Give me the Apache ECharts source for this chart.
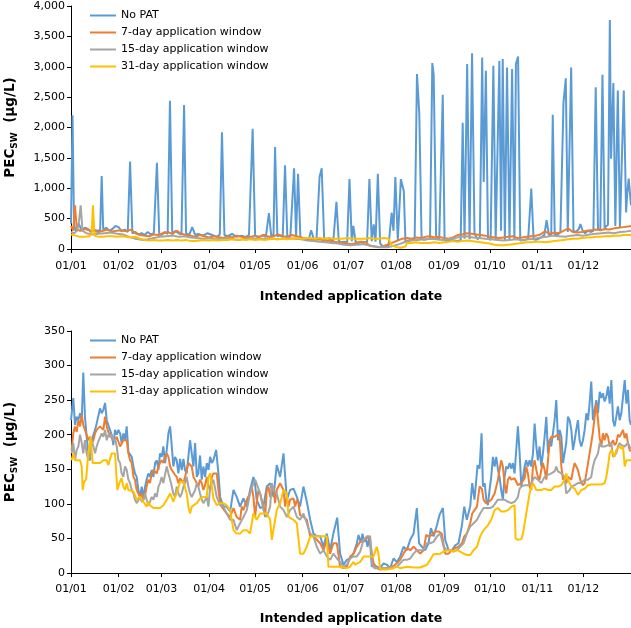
<!DOCTYPE html>
<html>
<head>
<meta charset="utf-8">
<script src="https://cdn.jsdelivr.net/npm/echarts@6.0.0/dist/echarts.min.js"></script>
<style>
  html, body { margin: 0; padding: 0; background: #fff; }
  #chart { width: 631px; height: 628px; }
</style>
</head>
<body>
<div id="chart"></div>
<script>
// x = day of year (0 = 01/01), y = PECsw (µg/L)
var monthDays = [0, 31, 59, 90, 120, 151, 181, 212, 243, 273, 304, 334];
var monthLabels = ['01/01', '01/02', '01/03', '01/04', '01/05', '01/06', '01/07', '01/08', '01/09', '01/10', '01/11', '01/12'];
var seriesNames = ['No PAT', '7-day application window', '15-day application window', '31-day application window'];
var seriesColors = ['#5B9BD5', '#ED7D31', '#A5A5A5', '#FFC000'];

// ---- top panel ----
var topNoPat = [[0,420],[1,2200],[2,380],[3,300],[5,420],[7,300],[9,350],[11,330],[13,280],[15,320],[17,300],[19,310],[20,1200],[21,320],[23,350],[25,300],[27,330],[29,380],[31,360],[33,290],[35,320],[37,280],[38.5,1440],[40,260],[42,280],[44,240],[46,260],[48,230],[50,280],[52,240],[54,260],[56,1420],[57.5,250],[59,230],[61,280],[63,250],[64.5,2440],[66,240],[68,300],[70,260],[72,240],[73.7,2370],[75,260],[77,230],[79,360],[81,230],[83,250],[86,220],[89,260],[92,230],[95,200],[97,240],[98.4,1920],[100,230],[102,210],[105,250],[108,200],[111,220],[114,200],[116,230],[118.4,1980],[120,220],[122,190],[125,230],[127,200],[129,590],[130.5,220],[132,240],[133,1680],[134.5,210],[136,220],[138,200],[139.5,1380],[141,190],[143,220],[145.4,1330],[146.7,210],[148,1240],[149.5,200],[151,170],[153,180],[155,160],[156.5,310],[158,180],[160,150],[162,1185],[163.4,1330],[165,160],[167,130],[169,150],[171,140],[173,775],[174.5,140],[176,110],[178,120],[180,110],[181.5,1150],[183,130],[184,380],[185.5,120],[187,100],[189,110],[191,100],[193,120],[194.5,1150],[196,130],[197.3,405],[198.5,120],[200,1240],[201.5,90],[203,50],[205,40],[207,60],[209,600],[210.2,300],[211.4,1185],[213,140],[215,1150],[216.9,956],[218,120],[220,140],[222,150],[224,160],[225.5,2880],[227,2240],[228.5,170],[230,150],[232,160],[234,170],[235.5,3060],[236.4,2870],[238,170],[240,160],[242.3,2540],[243.5,150],[246,130],[248,150],[250,140],[252,130],[254,150],[255.3,2077],[256.5,170],[258.2,3044],[259.8,160],[261.4,3220],[263,250],[265,160],[266.5,200],[268,3153],[269,1103],[270.4,2934],[271.8,170],[273.5,150],[275.3,3016],[276.8,150],[278,160],[279.2,3098],[280.3,300],[281.4,3126],[282.8,150],[284.2,2989],[285.8,140],[287.5,2962],[289,160],[290,3044],[291.4,3170],[292.8,140],[294,130],[296,150],[298,170],[300,995],[301.5,160],[303,150],[305,170],[307,200],[308.5,230],[310,475],[311.5,230],[313,230],[314,2208],[315.3,240],[317,230],[319,280],[320,300],[321,2415],[322.5,2809],[323.8,280],[325,280],[326,2989],[327.5,300],[329,280],[331,330],[332,410],[333.5,300],[335,260],[337,300],[339,280],[340.5,300],[342,2661],[343.5,320],[345,320],[346.4,2869],[347.8,350],[349,340],[350,400],[351.2,3770],[352,1486],[353.5,2733],[354.8,380],[356.4,2607],[357.8,360],[359,350],[360.3,2607],[361.8,600],[362.5,900],[363.5,1159],[365,720]];
var top7day = [[0,380],[1.5,300],[2.6,720],[3.8,320],[6,300],[9,330],[12,310],[15,290],[18,280],[21,300],[24,320],[27,290],[30,300],[33,310],[36,290],[39,320],[42,260],[45,230],[48,220],[51,210],[54,240],[57,230],[60,260],[63,280],[66,250],[69,300],[72,250],[75,230],[78,220],[81,200],[84,230],[87,210],[90,190],[93,210],[96,200],[99,180],[102,210],[105,190],[108,220],[111,200],[114,190],[117,200],[120,220],[123,200],[126,230],[129,200],[132,210],[135,240],[138,210],[141,200],[144,230],[147,210],[150,190],[153,170],[156,170],[159,150],[162,160],[165,140],[168,140],[171,120],[174,110],[177,100],[180,90],[183,80],[186,100],[189,120],[192,110],[195,50],[198,40],[201,30],[204,50],[207,80],[210,110],[213,140],[216,170],[219,180],[222,170],[225,190],[228,180],[231,200],[234,210],[237,190],[240,200],[243,180],[246,170],[249,190],[252,230],[255,240],[258,260],[261,250],[264,240],[267,230],[270,220],[273,200],[276,190],[279,180],[282,190],[285,200],[288,210],[291,180],[294,190],[297,200],[300,210],[303,220],[306,240],[309,290],[312,250],[315,270],[318,260],[321,300],[324,340],[327,280],[330,270],[333,280],[336,300],[339,310],[342,320],[345,310],[348,330],[351,320],[354,340],[357,350],[360,360],[363,370],[365,380]];
var top15day = [[0,280],[2,260],[4,300],[5.2,450],[6.3,720],[7.5,300],[10,260],[14,240],[18,250],[22,260],[26,270],[30,250],[34,240],[38,200],[42,170],[46,150],[50,160],[54,180],[58,200],[62,210],[66,220],[70,200],[74,210],[78,190],[82,180],[86,170],[90,180],[94,160],[98,170],[102,180],[106,160],[110,150],[114,170],[118,180],[122,160],[126,170],[130,180],[134,160],[138,170],[142,180],[146,170],[150,160],[154,140],[158,130],[162,120],[166,110],[170,100],[174,90],[178,70],[182,60],[186,70],[190,80],[194,60],[198,40],[202,30],[206,30],[210,50],[214,80],[218,120],[222,140],[226,150],[230,160],[234,170],[238,160],[242,150],[246,160],[250,180],[254,200],[258,210],[262,190],[266,180],[270,170],[274,160],[278,150],[282,140],[286,150],[290,160],[294,150],[298,160],[302,170],[306,190],[310,200],[314,220],[318,210],[322,200],[326,220],[330,230],[334,220],[338,240],[342,250],[346,260],[350,270],[354,260],[358,280],[362,290],[365,300]];
var top31day = [[0,240],[3,220],[6,200],[9,200],[12,210],[13.5,250],[14.3,720],[15.3,220],[18,200],[21,200],[24,210],[27,210],[30,200],[33,210],[36,200],[39,190],[42,200],[45,170],[48,150],[51,140],[54,150],[57,140],[60,140],[63,150],[66,140],[69,150],[72,140],[75,150],[78,130],[81,130],[84,140],[87,150],[90,140],[93,150],[96,140],[99,150],[102,150],[105,160],[108,150],[111,160],[114,150],[117,160],[120,150],[123,160],[126,150],[129,160],[132,170],[135,160],[138,170],[141,160],[144,170],[147,180],[150,170],[153,180],[156,180],[159,170],[162,180],[165,170],[168,180],[171,170],[174,170],[177,170],[180,180],[183,170],[186,170],[189,170],[192,170],[195,180],[198,170],[201,170],[204,180],[207,170],[209,60],[212,30],[215,20],[218,40],[219,100],[222,100],[225,110],[228,100],[231,100],[234,100],[237,110],[240,100],[243,110],[246,120],[249,130],[252,120],[255,130],[258,140],[261,130],[264,120],[267,110],[270,100],[273,90],[276,70],[279,60],[282,60],[285,70],[288,80],[291,90],[294,100],[297,110],[300,110],[303,120],[306,120],[309,110],[312,120],[315,130],[318,140],[321,150],[324,160],[327,170],[330,170],[333,180],[336,190],[339,190],[342,200],[345,200],[348,210],[351,210],[354,220],[357,220],[360,230],[363,230],[365,230]];

// ---- bottom panel ----
var botNoPat = [[0,221],[1.5,253],[2.6,214],[3.7,226],[4.8,221],[5.9,231],[7,221],[8,290],[9.1,226],[10.2,197],[11.3,173],[12.4,163],[13.5,192],[14.6,200],[15.7,207],[16.7,216],[17.8,214],[18.9,238],[20,231],[21.1,236],[22.2,246],[23.3,221],[24.3,221],[25.4,207],[26.5,200],[27.6,185],[28.7,207],[29.8,200],[30.9,207],[32,202],[33,188],[34.1,202],[35.2,192],[36.3,212],[37.4,175],[38.5,173],[39.6,168],[40.7,154],[41.7,144],[42.8,139],[43.9,120],[45,110],[46.1,125],[47.2,110],[48.3,125],[49.3,135],[50.4,144],[51.5,139],[52.6,149],[53.7,139],[54.8,159],[55.9,163],[57,149],[58,173],[59.1,168],[60.2,183],[61.3,159],[62.4,178],[63.5,202],[64.6,212],[65.7,183],[66.7,154],[67.8,168],[68.9,163],[70,144],[71.1,165],[72.2,149],[73.3,165],[74.3,149],[75.4,144],[76.5,168],[77.6,192],[78.7,173],[79.8,154],[80.9,188],[82,139],[83,144],[84.1,170],[85.2,135],[86.3,154],[87.4,139],[88.5,159],[89.6,149],[90.7,168],[91.8,159],[92.8,163],[94.6,178],[96.1,144],[97.2,110],[99.3,96],[101.5,96],[103.7,89],[105.9,120],[108,110],[110.2,96],[112.4,108],[114.6,96],[116.7,120],[118.9,139],[119.9,130],[121,106],[123.3,94],[125.4,96],[127.6,125],[129.8,130],[132,110],[134.1,156],[136.3,139],[138.5,173],[140.7,106],[142.8,120],[145,122],[147.2,110],[149.3,96],[151.5,125],[153.7,103],[155.9,77],[158,57],[160.2,53],[162.4,53],[164.6,38],[166.7,57],[168.9,33],[171,57],[173.5,80],[175.4,28],[177.6,12],[179.8,19],[182,21],[184.1,28],[186.3,43],[187.4,55],[188.9,44],[190,57],[191.1,45],[192.2,50],[193.3,38],[194.6,53],[196.1,9],[197.2,12],[199.3,9],[201.5,7],[203.7,14],[205.9,12],[208,7],[210.2,21],[212.4,16],[214.6,24],[216.7,38],[218.9,33],[221.1,48],[223.3,57],[225.4,94],[226.9,43],[228.7,38],[230.9,33],[233,43],[234.6,65],[236.3,53],[238.5,69],[240.2,84],[242.4,94],[243.9,48],[246.1,33],[248.3,33],[250.4,40],[252.6,43],[254.8,69],[256.3,96],[258,77],[260.2,96],[261.5,130],[263,106],[265,156],[266.3,151],[267.6,202],[268.5,125],[269.6,130],[270.7,106],[271.7,98],[272.8,120],[273.9,139],[275,168],[276.1,154],[277.2,168],[278.3,149],[279.3,139],[280.4,120],[281.5,106],[282.6,139],[283.7,154],[284.8,151],[285.9,159],[287,151],[288,159],[289.1,144],[290.2,178],[291.3,212],[292.4,173],[293.5,125],[294.6,139],[295.7,154],[296.7,163],[297.8,154],[298.9,163],[300,154],[301.1,173],[302.2,216],[303.3,183],[304.3,163],[305.4,183],[306.5,154],[307.6,173],[308.7,197],[309.8,226],[310.9,173],[312,192],[313,183],[314.1,202],[315.2,221],[316.3,250],[317.4,192],[318.5,207],[319.6,197],[320.7,159],[321.7,173],[322.8,188],[323.9,226],[325,221],[326.1,207],[327.2,178],[328.3,192],[329.3,207],[330.4,221],[331.5,192],[332.6,183],[333.7,192],[334.8,207],[335.9,231],[337,221],[338,245],[339.1,277],[340.2,221],[341.3,236],[342.4,250],[343.5,231],[344.6,262],[345.7,253],[346.7,260],[347.8,248],[348.9,255],[350,270],[351.1,245],[352.2,279],[353.3,221],[354.3,212],[355.4,226],[356.5,241],[357.6,221],[358.7,231],[359.8,255],[360.9,279],[362,245],[363,265],[364.1,221],[365,214]];
var bot7day = [[0.4,178],[1.5,202],[2.6,212],[3.7,204],[4.8,221],[5.9,212],[7,229],[8,214],[9.1,207],[10.2,200],[11.3,192],[12.4,197],[13.5,188],[14.6,192],[15.7,202],[16.7,207],[17.8,207],[18.9,212],[20,214],[21.1,207],[22.2,226],[23.3,212],[24.3,204],[25.4,200],[26.5,195],[27.6,197],[28.7,192],[29.8,197],[30.9,195],[32,183],[33,183],[34.1,192],[35.2,190],[36.3,192],[37.4,173],[38.5,163],[39.6,159],[40.7,139],[41.7,135],[42.8,120],[43.9,115],[45,110],[46.1,115],[47.2,106],[48.3,113],[49.3,125],[50.4,135],[51.5,130],[52.6,144],[53.7,149],[54.8,149],[55.9,144],[57,154],[58,159],[59.1,163],[60.2,159],[61.3,168],[62.4,173],[63.5,168],[64.6,154],[65.7,149],[66.7,149],[67.8,142],[68.9,139],[70,130],[71.1,137],[72.2,135],[73.3,130],[74.3,139],[75.4,149],[76.5,159],[77.6,159],[78.7,154],[79.8,139],[80.9,139],[82,130],[83,125],[84.1,135],[85.2,130],[86.3,120],[87.4,127],[88.5,139],[89.6,125],[90.7,120],[91.8,139],[92.8,144],[93.9,142],[95,144],[96.1,120],[97.2,101],[98.2,96],[99.3,98],[101.5,86],[103.7,81],[105.9,94],[108,81],[110.2,77],[111.3,96],[112.4,91],[114.6,106],[116.7,115],[117.8,125],[118.9,110],[120,81],[121,101],[122.2,120],[123.3,115],[125.4,96],[126.5,81],[127.6,120],[128.7,125],[129.8,110],[130.9,120],[132,125],[133,101],[134.1,120],[136.3,130],[138.5,120],[139.6,96],[140.7,110],[141.8,96],[142.8,106],[145,108],[146.1,96],[147.2,106],[148.2,101],[149.3,84],[151.5,81],[153.7,77],[155.9,53],[158,53],[160.2,48],[162.4,43],[164.6,33],[166.7,48],[168.9,28],[171,43],[173.3,43],[175.4,9],[177.6,7],[179.8,9],[182,24],[184.1,28],[186.3,38],[188.5,45],[190.7,48],[192.8,50],[193.9,53],[195,48],[196.1,28],[197.2,14],[199.3,7],[201.5,5],[203.7,7],[205.9,7],[208,9],[210.2,10],[212.4,14],[214.6,19],[216.7,28],[218.9,36],[221.1,33],[223.3,38],[225.4,33],[227.6,28],[229.8,33],[231.5,55],[233,53],[235.2,55],[237.4,60],[239.6,60],[241.7,57],[243.9,28],[246.1,28],[248.3,33],[250.4,36],[252.6,38],[254.8,43],[256.3,53],[258,57],[260.2,72],[261.5,86],[263,91],[264.6,96],[266.3,125],[267.8,122],[268.9,106],[270.4,101],[272.2,103],[273.9,106],[276.1,115],[278.3,135],[279.3,149],[280.4,163],[281.5,154],[282.6,130],[283.7,115],[284.8,135],[285.9,139],[287,135],[289.1,137],[291.3,127],[293.5,130],[295.7,137],[296.7,154],[297.8,144],[298.9,125],[300,120],[301.1,154],[302.2,163],[303.3,149],[304.3,139],[305.4,135],[306.5,149],[307.6,159],[308.7,149],[309.8,135],[310.9,163],[312,192],[313,197],[315.2,197],[317.4,200],[318.5,197],[319.6,154],[320.7,135],[321.7,139],[322.8,130],[323.9,139],[326.1,135],[327.2,149],[328.3,159],[330.4,149],[331.5,139],[332.6,130],[333.7,127],[334.8,130],[335.9,144],[337,159],[338,173],[339.1,188],[340.2,204],[341.3,226],[342.4,245],[343.5,221],[344.6,195],[345.7,183],[346.7,202],[347.8,192],[348.9,202],[350,197],[351.1,183],[352.2,183],[353.3,192],[354.3,185],[355.4,188],[356.5,200],[357.6,197],[358.7,202],[359.8,207],[360.9,195],[362,202],[363,188],[364.1,178],[365,176]];
var bot15day = [[0.4,173],[1.5,188],[2.6,163],[3.7,178],[4.8,183],[5.9,200],[7,188],[8,173],[9.1,192],[10.2,173],[11.3,163],[12.4,168],[13.5,192],[14.6,183],[15.7,173],[16.7,183],[17.8,190],[18.9,188],[20,202],[21.1,197],[22.2,207],[23.3,192],[24.3,200],[25.4,197],[26.5,200],[27.6,192],[28.7,195],[29.8,183],[30.9,163],[32,159],[33,144],[34.1,139],[35.2,154],[36.3,149],[37.4,135],[38.5,130],[39.6,120],[40.7,115],[41.7,106],[42.8,101],[43.9,103],[45,110],[46.1,103],[47.2,106],[48.3,115],[49.3,106],[50.4,98],[51.5,103],[52.6,110],[53.7,106],[54.8,115],[55.9,110],[57,125],[58,130],[59.1,139],[60.2,130],[61.3,142],[62.4,154],[63.5,144],[64.6,135],[65.7,125],[66.7,115],[67.8,110],[68.9,125],[70,115],[71.1,110],[72.2,115],[73.3,125],[74.3,130],[75.4,139],[76.5,125],[77.6,115],[78.7,110],[79.8,115],[80.9,120],[82,130],[83,125],[84.1,115],[85.2,106],[86.3,101],[87.4,103],[88.5,110],[89.6,96],[90.7,125],[92.8,135],[95,110],[97.2,98],[99.3,96],[101.5,86],[103.7,77],[105.9,77],[108,62],[110.2,72],[112.4,81],[114.6,91],[116.7,115],[118.9,130],[120,135],[121,135],[123.3,115],[125.4,91],[127.6,81],[129.8,96],[130.9,130],[132,120],[134.1,115],[136.3,96],[138.5,91],[140.7,81],[142.8,91],[145,96],[147.2,81],[149.3,77],[151.5,86],[153.7,72],[155.9,57],[158,53],[160.2,38],[162.4,28],[164.6,33],[166.7,24],[168.9,19],[171,28],[173.3,21],[175.4,16],[177.6,9],[179.8,12],[182,21],[184.1,24],[186.3,24],[188.5,31],[190.7,48],[192.8,53],[195,53],[196.1,14],[197.8,7],[201.5,7],[205.9,7],[210.2,9],[212.4,9],[214.6,14],[216.7,19],[218.9,19],[221.1,21],[223.3,28],[225.4,33],[227.6,33],[229.8,33],[232,43],[234.1,43],[236.3,45],[238.5,53],[240.7,57],[242.8,38],[245,33],[247.2,33],[249.3,31],[251.5,33],[253.7,38],[255.9,43],[258,57],[260.2,67],[262.4,72],[264.6,77],[266.7,86],[268.9,94],[271.1,94],[273.3,94],[275,96],[276.1,96],[278.3,106],[280.4,106],[282.6,106],[284.8,103],[287,101],[289.1,103],[290.2,106],[291.3,110],[292.4,122],[293.5,125],[295.7,127],[297.8,127],[300,130],[302.2,139],[304.3,135],[306.5,130],[308.7,139],[310.9,142],[313,144],[315.2,147],[316.3,154],[317.4,147],[319.6,144],[321.7,139],[322.8,115],[323.9,115],[325,120],[326.1,125],[328.3,127],[330.4,130],[332.6,130],[334.8,135],[337,135],[339.1,139],[340.2,154],[341.3,163],[343.5,173],[344.6,188],[345.7,183],[347.8,183],[350,185],[352.2,188],[353.3,168],[354.3,168],[355.4,173],[356.5,183],[357.6,188],[358.7,185],[360.9,183],[363,188],[364.1,183],[365,180]];
var bot31day = [[0.4,163],[1.5,173],[2.6,163],[3.7,163],[5.9,163],[7,154],[7.6,120],[8.5,132],[9.8,135],[11.3,173],[12.8,197],[14.1,159],[16.7,159],[18.9,159],[21.1,163],[23.3,163],[24.3,156],[26.5,173],[28.7,173],[30.2,120],[31.5,130],[33,137],[34.1,125],[35.2,120],[36.3,130],[37.4,120],[38.5,118],[40.7,118],[42.8,106],[45,110],[47.2,103],[49.3,96],[50.4,103],[51.5,98],[53.7,94],[55.9,94],[58,94],[60.2,98],[62.4,106],[64.6,115],[66.7,103],[67.8,110],[68.9,115],[71.1,132],[73.3,132],[74.3,130],[75.4,115],[76.5,96],[77.6,86],[78.7,96],[79.8,96],[82,101],[84.1,108],[86.3,110],[88.5,110],[89.6,139],[90.7,144],[92.8,108],[95,98],[97.2,101],[99.3,101],[101.5,98],[103.7,91],[105.9,62],[108,57],[110.2,57],[112.4,62],[114.6,62],[116.7,57],[118.9,86],[121,77],[123.3,86],[125.4,86],[127.6,86],[129.8,77],[130.9,48],[132,48],[134.1,91],[136.3,101],[138.5,120],[139.6,120],[140.7,115],[141.8,81],[142.8,81],[145,77],[147.2,72],[149.3,28],[151.5,28],[153.7,38],[155.9,53],[158,53],[164.6,53],[166.7,53],[167.8,9],[171,9],[175.4,9],[179.8,7],[181.9,9],[184.1,16],[185.2,12],[186.3,12],[188.5,16],[190.7,24],[195,24],[197.2,24],[199.3,38],[200.4,28],[201.5,5],[205.9,5],[210.2,7],[212.4,9],[214.6,7],[218.9,9],[223.3,8],[227.6,8],[232,12],[234.1,19],[236.3,27],[240.7,28],[242.8,31],[245,33],[247.2,33],[249.3,31],[251.5,33],[253.7,31],[255.9,28],[258,26],[260.2,26],[262.4,33],[264.6,38],[266.7,53],[268.9,62],[269.6,62],[271.7,69],[273.9,77],[276.1,91],[278.3,94],[280.4,89],[282.6,89],[284.8,91],[287,96],[289.1,98],[289.8,50],[291.3,48],[293.5,49],[294.6,57],[296.7,86],[298.9,115],[300,125],[301.1,130],[303.3,120],[306.5,120],[308.7,122],[310.9,120],[313,120],[315.2,125],[317.4,125],[319.6,127],[321.7,135],[322.8,144],[323.9,135],[326.1,125],[328.3,122],[330.4,113],[332.6,120],[334.8,122],[337,127],[339.1,128],[341.3,128],[343.5,128],[345.7,128],[347.8,130],[348.9,139],[350,154],[351.1,173],[352.2,178],[353.3,173],[354.3,168],[355.4,178],[356.5,180],[357.6,183],[358.7,180],[359.8,183],[360.9,154],[362,163],[363,163],[365,163]];

var FONT = 'DejaVu Sans';

function xAxisOpt(gridIndex, labelMargin, nameGap) {
  return {
    type: 'value', gridIndex: gridIndex, min: 0, max: 365,
    axisLine: { show: true, lineStyle: { color: '#000', width: 1 } },
    axisTick: { show: true, customValues: monthDays, length: 4, inside: false, lineStyle: { color: '#000' } },
    axisLabel: {
      customValues: monthDays, margin: labelMargin, fontSize: 11, fontFamily: FONT, color: '#000',
      formatter: function (v) { return monthLabels[monthDays.indexOf(v)]; }
    },
    splitLine: { show: false },
    name: 'Intended application date', nameLocation: 'middle', nameGap: nameGap,
    nameTextStyle: { fontSize: 12.5, fontWeight: 'bold', fontFamily: FONT, color: '#000' }
  };
}

function yAxisOpt(gridIndex, max, interval) {
  return {
    type: 'value', gridIndex: gridIndex, min: 0, max: max, interval: interval,
    axisLine: { show: true, lineStyle: { color: '#000', width: 1 } },
    axisTick: { show: true, length: 4, lineStyle: { color: '#000' } },
    axisLabel: {
      margin: 6, fontSize: 11, fontFamily: FONT, color: '#000',
      formatter: function (v) { return v.toLocaleString('en-US'); }
    },
    splitLine: { show: false },
    name: '{a|PEC}{b|SW}{a|  (µg/L)}', nameLocation: 'middle', nameGap: 52, nameRotate: 90,
    nameTextStyle: {
      rich: {
        a: { fontSize: 13.5, fontWeight: 'bold', fontFamily: FONT, color: '#000', lineHeight: 18 },
        b: { fontSize: 9, fontWeight: 'bold', fontFamily: FONT, color: '#000', lineHeight: 18, verticalAlign: 'bottom' }
      }
    }
  };
}

function legendOpt(top) {
  return {
    orient: 'vertical', left: 90, top: top, padding: 0,
    icon: 'rect', itemWidth: 26, itemHeight: 2, itemGap: 6,
    data: seriesNames,
    textStyle: { fontSize: 11, fontFamily: FONT, color: '#000' }
  };
}

function lineSeries(i, data, axisIndex) {
  return {
    name: seriesNames[i], type: 'line', data: data,
    xAxisIndex: axisIndex, yAxisIndex: axisIndex,
    symbol: 'none', showSymbol: false,
    lineStyle: { width: 2, color: seriesColors[i] },
    itemStyle: { color: seriesColors[i] },
    z: 2 + i
  };
}

var chart = echarts.init(document.getElementById('chart'), null, { renderer: 'canvas' });
chart.setOption({
  animation: false,
  backgroundColor: '#fff',
  grid: [
    { left: 71, right: 0, top: 6, height: 243, outerBoundsMode: 'none', containLabel: false },
    { left: 71, right: 0, top: 331, height: 242, outerBoundsMode: 'none', containLabel: false }
  ],
  legend: [legendOpt(10), legendOpt(335)],
  xAxis: [xAxisOpt(0, 12, 41), xAxisOpt(1, 11, 39)],
  yAxis: [yAxisOpt(0, 4000, 500), yAxisOpt(1, 350, 50)],
  series: [
    lineSeries(0, topNoPat, 0),
    lineSeries(1, top7day, 0),
    lineSeries(2, top15day, 0),
    lineSeries(3, top31day, 0),
    lineSeries(0, botNoPat, 1),
    lineSeries(1, bot7day, 1),
    lineSeries(2, bot15day, 1),
    lineSeries(3, bot31day, 1)
  ]
});
</script>
</body>
</html>
